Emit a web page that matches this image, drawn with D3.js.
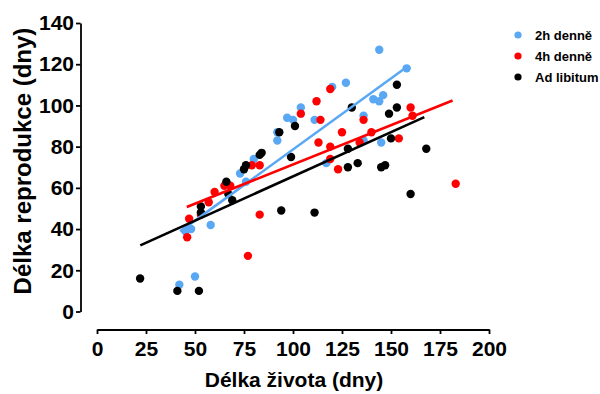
<!DOCTYPE html>
<html>
<head>
<meta charset="utf-8">
<script src="https://cdn.jsdelivr.net/npm/d3@7"></script>
<style>
  html, body { margin: 0; padding: 0; background: #fff; }
  svg text { font-family: "Liberation Sans", Arial, sans-serif; font-weight: bold; fill: #000; }
</style>
</head>
<body>
<svg id="chart" width="600" height="394"></svg>
<script>
// ---- data (x = Délka života, y = Délka reprodukce) ----
const seriesNames = ["2h denně", "4h denně", "Ad libitum"];
const seriesColors = ["#5aa8f4", "#ff0000", "#000000"];

const blueX = [42, 50, 45, 48, 58, 73, 76, 80, 92, 92, 97, 100, 104, 111, 117, 120, 127, 136, 136, 141, 144, 146, 145, 144, 158];
const blueY = [13, 17, 39, 40, 42, 67, 63, 74, 87, 83, 94, 93, 99, 93, 72, 109, 111, 95, 83, 103, 102, 105, 82, 127, 118];

const redX = [46, 47, 53, 57, 60, 65, 68, 77, 79, 83, 83, 104, 112, 114, 113, 119, 119, 119, 123, 125, 134, 136, 140, 154, 160, 161, 183];
const redY = [36, 45, 47, 53, 58, 61, 61, 27, 71, 71, 47, 96, 102, 93, 82, 108, 80, 74, 69, 87, 82, 93, 87, 84, 99, 95, 62];

const blackX = [22, 41, 52, 53, 53, 66, 67, 69, 75, 76, 83, 84, 93, 94, 99, 101, 111, 128, 128, 130, 133, 145, 147, 149, 150, 153, 153, 160, 168];
const blackY = [16, 10, 10, 48, 51, 63, 57, 54, 69, 71, 76, 77, 87, 49, 75, 90, 48, 79, 70, 99, 72, 70, 71, 96, 84, 99, 110, 57, 79];

// regression line end points [x1, y1, x2, y2]
const blueFit = [42.4, 38.9, 157.7, 118.4];
const redFit = [45.8, 50.7, 181.4, 102.4];
const blackFit = [22.1, 32.1, 167.0, 94.3];

const xTicks = [0, 25, 50, 75, 100, 125, 150, 175, 200];
const yTicks = [0, 20, 40, 60, 80, 100, 120, 140];

const xTitle = "Délka života (dny)";
const yTitle = "Délka reprodukce (dny)";

// ---- drawing ----
const svg = d3.select("#chart");
const x = d3.scaleLinear().domain([0, 200]).range([97, 489]);
const y = d3.scaleLinear().domain([0, 140]).range([311.5, 23]);

const series = [
  { xs: blueX, ys: blueY, fit: blueFit },
  { xs: redX, ys: redY, fit: redFit },
  { xs: blackX, ys: blackY, fit: blackFit }
];

// axes
const xAxis = svg.append("g")
  .attr("transform", "translate(0,329.5)")
  .call(d3.axisBottom(x).tickValues(xTicks).tickSize(4.5).tickPadding(7).tickSizeOuter(0));
const yAxis = svg.append("g")
  .attr("transform", "translate(80.5,0)")
  .call(d3.axisLeft(y).tickValues(yTicks).tickSize(4.5).tickPadding(2).tickSizeOuter(0));

[xAxis, yAxis].forEach(g => {
  g.select(".domain").attr("stroke", "#000").attr("stroke-width", 1.8);
  g.selectAll(".tick line").attr("stroke", "#000").attr("stroke-width", 1.8);
  g.selectAll(".tick text")
    .style("font-family", "'Liberation Sans', Arial, sans-serif")
    .style("font-weight", "bold")
    .style("font-size", "21px")
    .attr("fill", "#000");
});
xAxis.selectAll(".tick text").attr("dy", "0.71em");

// points
series.forEach((s, i) => {
  svg.append("g").selectAll("circle")
    .data(s.xs.map((v, k) => [v, s.ys[k]]))
    .join("circle")
    .attr("cx", d => x(d[0]))
    .attr("cy", d => y(d[1]))
    .attr("r", 4.2)
    .attr("fill", seriesColors[i]);
});

// fit lines
series.forEach((s, i) => {
  svg.append("line")
    .attr("x1", x(s.fit[0])).attr("y1", y(s.fit[1]))
    .attr("x2", x(s.fit[2])).attr("y2", y(s.fit[3]))
    .attr("stroke", seriesColors[i])
    .attr("stroke-width", 2.6);
});

// axis titles
svg.append("text")
  .attr("x", 294).attr("y", 387)
  .attr("text-anchor", "middle")
  .style("font-size", "21px")
  .text(xTitle);

svg.append("text")
  .attr("transform", "translate(31,161) rotate(-90)")
  .attr("text-anchor", "middle")
  .style("font-size", "24px")
  .text(yTitle);

// legend
const legend = svg.append("g");
seriesNames.forEach((name, i) => {
  const ly = 35 + i * 21;
  legend.append("circle").attr("cx", 518).attr("cy", ly).attr("r", 3.6).attr("fill", seriesColors[i]);
  legend.append("text").attr("x", 535).attr("y", ly).attr("dy", "0.36em")
    .style("font-size", "13px").text(name);
});
</script>
</body>
</html>
